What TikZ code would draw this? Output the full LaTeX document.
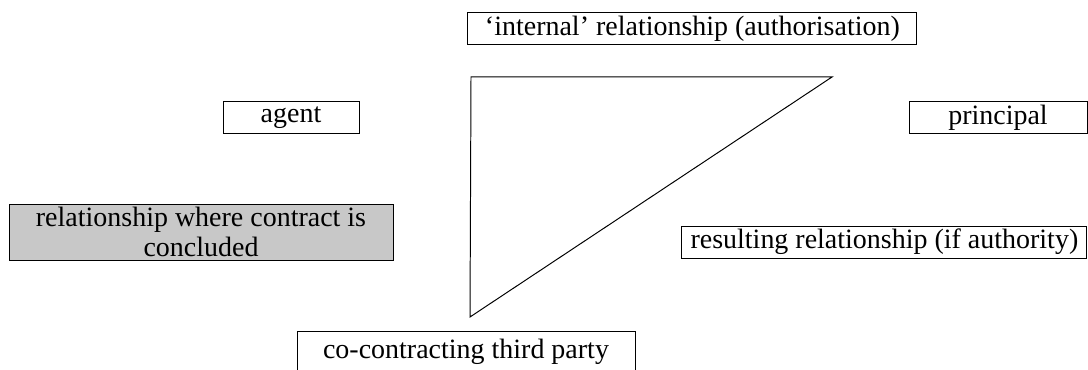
\documentclass[tikz,border=0pt]{standalone}
\usepackage{fontspec}
\setmainfont{Liberation Serif}
\definecolor{boxgray}{RGB}{200,200,200}

\begin{document}
\begin{tikzpicture}[scale=1,
    box/.style={draw, line width=0.7pt, inner sep=0pt, align=center,
      minimum height=0.8cm, font=\fontsize{19.9pt}{21pt}\selectfont},
    shaded/.style={box, fill=boxgray}]
        \useasboundingbox (0,0) rectangle (27.2,9.25);
        % the boxes
        \node[box, minimum width=11.225cm] (internal) at (17.31,8.525) {`internal' relationship (authorisation)};
        \node[box, minimum width=3.4cm] (agent) at (7.275,6.3) {agent};
        \node[box, minimum width=4.45cm] (principal) at (24.95,6.3) {principal};
        \node[shaded, minimum width=9.6cm, minimum height=1.4cm] (where) at (5.025,3.45) {relationship where contract is\\concluded};
        \node[box, minimum width=10.125cm] (resulting) at (22.11,3.2) {resulting relationship (if authority)};
        \node[box, minimum width=8.45cm, minimum height=1.05cm] (third) at (11.65,0.45) {co-contracting third party};
        % the triangle
        \coordinate (tl) at (11.775,7.325);
        \coordinate (tr) at (20.8,7.325);
        \coordinate (bl) at (11.75,1.325);
        \draw[line width=0.7pt] (tl) -- (tr) -- (bl) -- cycle;
    \end{tikzpicture}
\end{document}
